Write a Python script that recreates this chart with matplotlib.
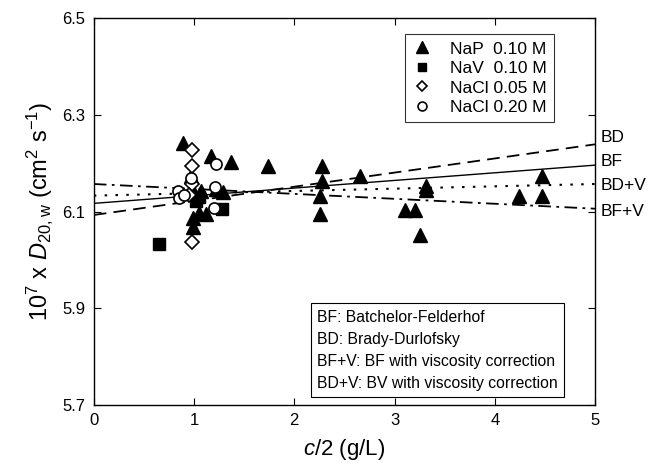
import matplotlib
matplotlib.use('Agg')
import matplotlib.pyplot as plt
import numpy as np

plt.rcParams['font.family'] = ['Liberation Sans', 'DejaVu Sans']
plt.rcParams['mathtext.fontset'] = 'custom'
plt.rcParams['mathtext.rm'] = 'Liberation Sans'
plt.rcParams['mathtext.it'] = 'Liberation Sans:italic'
plt.rcParams['mathtext.default'] = 'regular'

# NaP 0.10 M (triangles)
nap_x = [0.89, 1.17, 1.37, 0.97, 0.99, 1.07, 1.22, 1.29, 1.12, 0.99, 0.99, 1.05,
         1.74, 2.28, 2.28, 2.26, 2.26, 2.66, 3.10, 3.20, 3.31, 3.31, 3.25,
         4.24, 4.47, 4.47]
nap_y = [6.242, 6.214, 6.203, 6.173, 6.142, 6.142, 6.146, 6.141, 6.094, 6.087, 6.068, 6.098,
         6.194, 6.194, 6.163, 6.132, 6.094, 6.173, 6.104, 6.104, 6.152, 6.144, 6.052,
         6.132, 6.173, 6.132]
# NaV 0.10 M (squares)
nav_x = [0.65, 1.02, 1.05, 1.28]
nav_y = [6.032, 6.121, 6.130, 6.105]
# NaCl 0.05 M (diamonds)
nacl05_x = [0.98, 0.98, 0.98, 0.95, 0.98]
nacl05_y = [6.228, 6.194, 6.156, 6.135, 6.038]
# NaCl 0.20 M (circles)
nacl20_x = [1.22, 0.97, 0.84, 0.85, 1.21, 1.20, 0.90]
nacl20_y = [6.199, 6.170, 6.142, 6.128, 6.150, 6.108, 6.135]

# model lines, values at c/2 = 0 and 5
line_x = [0, 5]
bd_y = [6.093, 6.239]
bf_y = [6.117, 6.196]
bdv_y = [6.133, 6.157]
bfv_y = [6.157, 6.106]

fig = plt.figure(figsize=(6.56, 4.63), dpi=100)
ax = fig.add_axes([0.143, 0.125, 0.764, 0.836])

ax.plot(line_x, bd_y, color='black', lw=1.3, dashes=(7, 4))
ax.plot(line_x, bf_y, color='black', lw=1.0)
ax.plot(line_x, bdv_y, color='black', lw=1.5, dashes=(1.2, 4))
ax.plot(line_x, bfv_y, color='black', lw=1.3, dashes=(7, 3, 1.5, 3))

ax.plot(nap_x, nap_y, '^', color='black', ms=10.5, ls='none', label='NaP  0.10 M')
ax.plot(nav_x, nav_y, 's', color='black', ms=8, ls='none', label='NaV  0.10 M')
ax.plot(nacl05_x, nacl05_y, 'D', mfc='white', mec='black', mew=1.2, ms=7, ls='none',
        label='NaCl 0.05 M')
ax.plot(nacl20_x, nacl20_y, 'o', mfc='white', mec='black', mew=1.2, ms=8, ls='none',
        label='NaCl 0.20 M')

ax.set_xlim(0, 5)
ax.set_ylim(5.7, 6.5)
ax.set_xticks(np.arange(0, 6, 1))
ax.set_yticks([5.7, 5.9, 6.1, 6.3, 6.5])
ax.tick_params(direction='in', top=True, right=True, labelsize=12, length=5, pad=6)
for s in ax.spines.values():
    s.set_linewidth(1.0)

ax.set_xlabel(r'$\mathit{c}$/2 (g/L)', fontsize=16, labelpad=6)
ax.set_ylabel(r'10$^7$ x $\mathit{D}_{20,w}$ (cm$^2$ s$^{-1}$)', fontsize=17, labelpad=5)

leg = ax.legend(loc='upper right', bbox_to_anchor=(0.935, 0.98), fontsize=12.5,
                frameon=True, fancybox=False, edgecolor='black', handlelength=1.2,
                handletextpad=1.0, borderpad=0.4, labelspacing=0.25, numpoints=1,
                markerscale=0.8)
leg.get_frame().set_linewidth(0.8)

for lbl, yv in zip(['BD', 'BF', 'BD+V', 'BF+V'], [6.253, 6.203, 6.153, 6.100]):
    ax.text(1.012, yv, lbl, transform=ax.get_yaxis_transform(), fontsize=12.5,
            ha='left', va='center', clip_on=False)

ax.text(0.445, 0.036,
        'BF: Batchelor-Felderhof\nBD: Brady-Durlofsky\n'
        'BF+V: BF with viscosity correction\nBD+V: BV with viscosity correction',
        transform=ax.transAxes, fontsize=11.3, ha='left', va='bottom', linespacing=1.6,
        bbox=dict(boxstyle='square,pad=0.4', fc='white', ec='black', lw=0.8))

fig.savefig('out.png', dpi=100)
